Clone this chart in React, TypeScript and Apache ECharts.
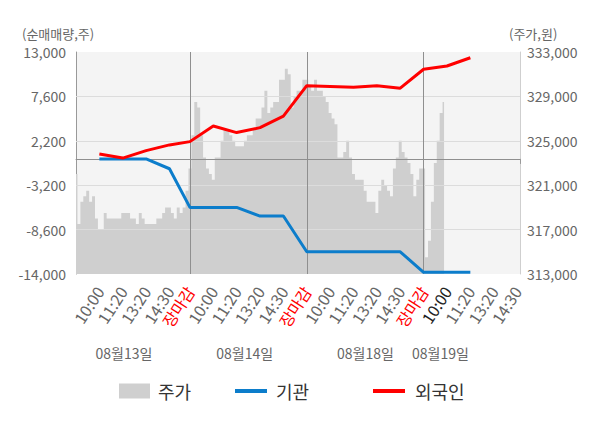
import React, { useEffect, useRef } from 'react';
import * as echarts from 'echarts';

// ---------- data ----------
const timeLabels = ['10:00', '11:20', '13:20', '14:30', '장마감'];
const dayLabels = ['08월13일', '08월14일', '08월18일', '08월19일'];
const slotsPerDay = [5, 5, 5, 4];
// category index at which each time label sits
const slotIndex = [8, 16, 24, 32, 39, 47, 55, 63, 71, 79, 87, 95, 103, 111, 119, 127, 135, 143, 151];
const dayEndIndex = [39, 79, 119];
const pointCount = 153;

const leftTicks = [-14000, -8600, -3200, 2200, 7600, 13000];
const rightTicks = [313000, 317000, 321000, 325000, 329000, 333000];

// 주가 (price, right axis), one value per category index from the start
const priceData = [
  // 08월13일
  322000, 317500, 319500, 320000, 320500, 319500, 320000, 318000, 317000, 317000,
  318500, 318000, 318000, 318000, 318000, 318000, 318500, 318500, 318500, 318000,
  318000, 317500, 318500, 318000, 317500, 317500, 317500, 317500, 318000, 318000,
  318500, 319000, 319000, 318500, 318000, 319000, 318500, 319000, 320500, 322500,
  // 08월14일
  325500, 328500, 328000, 325500, 323500, 322500, 322000, 321500, 323500, 323500,
  325000, 326000, 326000, 325500, 325000, 324500, 324500, 324500, 325000, 325500,
  325500, 326000, 327000, 327000, 328000, 329500, 327500, 328000, 328500, 328500,
  330500, 330500, 331500, 331000, 328000, 329000, 329500, 329500, 330500, 330500,
  // 08월18일
  330000, 329500, 330500, 329500, 329500, 329000, 328500, 327500, 327000, 326500,
  323500, 323500, 324000, 325000, 323500, 322000, 321500, 321500, 321500, 320500,
  319500, 319500, 319500, 318500, 320500, 321500, 321000, 320500, 320000, 322500,
  323500, 325000, 324000, 323500, 323000, 322000, 320000, 321500, 322500, 322500,
  // 08월19일
  314500, 316000, 319500, 323000, 325000, 327500, 328500,
];

// 기관 / 외국인 cumulative net volume at each time label
const institutionData = [
  0, 0, 0, -1200, -5900,
  -5900, -5900, -6950, -6950, -11300,
  -11300, -11300, -11300, -11300, -13800,
  -13800, -13800, null, null,
];
const foreignData = [
  600, 100, 1000, 1700, 2100,
  4000, 3200, 3800, 5200, 8900,
  8800, 8700, 8900, 8600, 10900,
  11300, 12300, null, null,
];

// ---------- helpers ----------
const FONT = '"Noto Sans CJK KR", "Noto Sans", sans-serif';
const categories = Array.from({ length: pointCount }, (_, i) => String(i));
const slotLabels: string[] = [];
slotsPerDay.forEach((n) => {
  for (let s = 0; s < n; s++) slotLabels.push(timeLabels[s]);
});
const labelByIndex: Record<number, number> = {};
slotIndex.forEach((idx, k) => (labelByIndex[idx] = k));
const tickSet = new Set([0, ...dayEndIndex, pointCount - 1]);

const toSeries = (vals: (number | null)[]) => {
  const arr: (number | null)[] = new Array(pointCount).fill(null);
  slotIndex.forEach((idx, k) => {
    if (vals[k] !== null && vals[k] !== undefined) arr[idx] = vals[k];
  });
  return arr;
};

const fmt = (v: number) => v.toLocaleString('en-US');

export default function App() {
  const ref = useRef<HTMLDivElement>(null);

  useEffect(() => {
    if (!ref.current) return;
    const chart = echarts.init(ref.current, undefined, { renderer: 'svg' });

    const GRID_LEFT = 76;
    const GRID_RIGHT = 80;
    const GRID_TOP = 52;
    const GRID_BOTTOM = 154;

    const markData: any[] = [];
    leftTicks.slice(1, -1).forEach((v) =>
      markData.push({ yAxis: v, lineStyle: { color: '#dcdcdc', width: 1, type: 'solid' } })
    );
    markData.push({ yAxis: 0, lineStyle: { color: '#8f8f8f', width: 1, type: 'solid' } });
    dayEndIndex.forEach((i) =>
      markData.push({ xAxis: i, lineStyle: { color: '#8f8f8f', width: 1, type: 'solid' } })
    );

    const dateCenters = [124, 244.7, 365.5, 440.5];

    const option: any = {
      animation: false,
      textStyle: { fontFamily: FONT },
      grid: {
        left: GRID_LEFT,
        right: GRID_RIGHT,
        top: GRID_TOP,
        bottom: GRID_BOTTOM,
        show: true,
        backgroundColor: '#f4f4f4',
        borderWidth: 0,
        containLabel: false,
      },
      legend: [
        {
          data: ['주가'],
          left: 114,
          top: 377,
          icon: 'rect',
          itemWidth: 31,
          itemHeight: 15,
          selectedMode: false,
          textStyle: { fontSize: 18, color: '#333', fontFamily: FONT, padding: [0, 0, 0, 3] },
        },
        {
          data: ['기관'],
          left: 230,
          top: 377,
          icon: 'rect',
          itemWidth: 32,
          itemHeight: 4,
          selectedMode: false,
          textStyle: { fontSize: 18, color: '#333', fontFamily: FONT, padding: [0, 0, 0, 4] },
        },
        {
          data: ['외국인'],
          left: 368,
          top: 377,
          icon: 'rect',
          itemWidth: 32,
          itemHeight: 4,
          selectedMode: false,
          textStyle: { fontSize: 18, color: '#333', fontFamily: FONT, padding: [0, 0, 0, 5] },
        },
      ],
      xAxis: {
        type: 'category',
        data: categories,
        boundaryGap: false,
        axisLine: { show: true, lineStyle: { color: '#999', width: 1 } },
        axisTick: {
          show: true,
          length: 5,
          interval: (index: number) => tickSet.has(index),
          lineStyle: { color: '#999' },
        },
        splitLine: { show: false },
        axisLabel: {
          show: true,
          interval: (index: number) => labelByIndex[index] !== undefined,
          formatter: (value: string) => {
            const k = labelByIndex[Number(value)];
            return k === undefined ? '' : slotLabels[k];
          },
          color: (value: string) => {
            const k = labelByIndex[Number(value)];
            if (k === undefined) return '#666';
            if (slotLabels[k] === '장마감') return '#ff0000';
            if (k === 15) return '#222';
            return '#666';
          },
          rotate: 57,
          margin: 14,
          fontSize: 16,
          fontFamily: FONT,
        },
      },
      yAxis: [
        {
          type: 'value',
          min: leftTicks[0],
          max: leftTicks[leftTicks.length - 1],
          interval: leftTicks[1] - leftTicks[0],
          axisLine: { show: true, lineStyle: { color: '#999' } },
          axisTick: { show: false },
          splitLine: { show: false },
          axisLabel: { formatter: fmt, color: '#666', fontSize: 14, margin: 10, fontFamily: FONT },
        },
        {
          type: 'value',
          min: rightTicks[0],
          max: rightTicks[rightTicks.length - 1],
          interval: rightTicks[1] - rightTicks[0],
          position: 'right',
          axisLine: { show: true, lineStyle: { color: '#cfcfcf' } },
          axisTick: { show: false },
          splitLine: { show: false },
          axisLabel: { formatter: fmt, color: '#666', fontSize: 14, margin: 7, fontFamily: FONT },
        },
      ],
      series: [
        {
          name: '주가',
          type: 'line',
          yAxisIndex: 1,
          data: priceData,
          step: 'middle',
          showSymbol: false,
          symbol: 'none',
          lineStyle: { width: 0, color: '#cfcfcf' },
          itemStyle: { color: '#cfcfcf' },
          areaStyle: { color: '#cfcfcf', opacity: 1, origin: 'start' },
          z: 1,
          silent: true,
        },
        {
          name: '기관',
          type: 'line',
          yAxisIndex: 0,
          data: toSeries(institutionData),
          connectNulls: true,
          showSymbol: false,
          symbol: 'none',
          lineStyle: { width: 3, color: '#0c7dcb' },
          itemStyle: { color: '#0c7dcb' },
          z: 6,
          markLine: {
            silent: true,
            symbol: ['none', 'none'],
            label: { show: false },
            animation: false,
            data: markData,
          },
        },
        {
          name: '외국인',
          type: 'line',
          yAxisIndex: 0,
          data: toSeries(foreignData),
          connectNulls: true,
          showSymbol: false,
          symbol: 'none',
          lineStyle: { width: 3, color: '#ff0000' },
          itemStyle: { color: '#ff0000' },
          z: 7,
        },
      ],
      graphic: [
        {
          type: 'text',
          x: 22,
          y: 33,
          style: {
            text: '(순매매량,주)',
            fill: '#666',
            fontSize: 13,
            fontFamily: FONT,
            textAlign: 'left',
            textVerticalAlign: 'middle',
          },
        },
        {
          type: 'text',
          x: 509,
          y: 33,
          style: {
            text: '(주가,원)',
            fill: '#666',
            fontSize: 13,
            fontFamily: FONT,
            textAlign: 'left',
            textVerticalAlign: 'middle',
          },
        },
        ...dayLabels.map((d, i) => ({
          type: 'text',
          x: dateCenters[i],
          y: 353,
          style: {
            text: d,
            fill: '#666',
            fontSize: 14,
            fontFamily: FONT,
            textAlign: 'center',
            textVerticalAlign: 'middle',
          },
        })),
      ],
    };

    chart.setOption(option);
    return () => chart.dispose();
  }, []);

  return (
    <div
      ref={ref}
      style={{ position: 'fixed', left: 0, top: 0, width: 600, height: 428, background: '#fff' }}
    />
  );
}
